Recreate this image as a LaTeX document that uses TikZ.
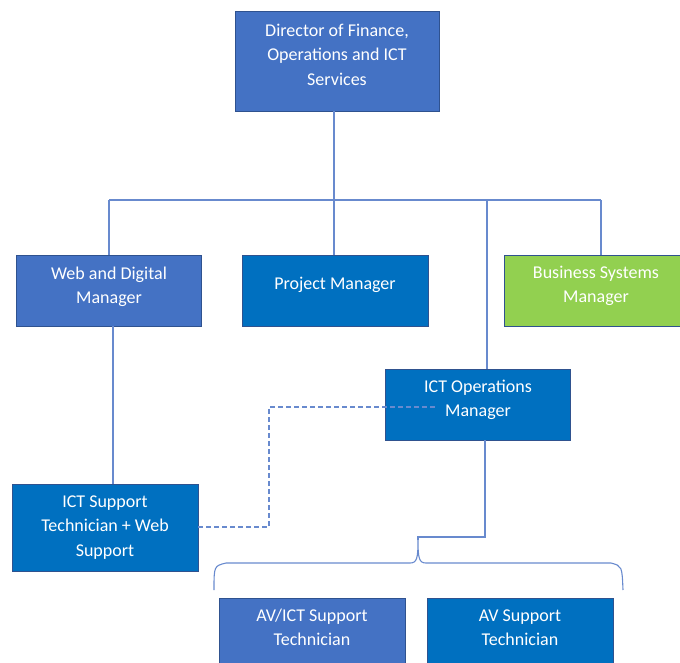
\documentclass[tikz,border=0pt]{standalone}
\usepackage{fontspec}
\setmainfont{Carlito}
\definecolor{blueA}{HTML}{4472C4}
\definecolor{blueB}{HTML}{0070C0}
\definecolor{greenA}{HTML}{92D050}
\definecolor{bord}{HTML}{2F528F}
\definecolor{conn}{RGB}{104,138,206}
\tikzset{
  box/.style={draw=bord, line width=0.7pt, anchor=north west, inner sep=0pt, minimum width=#1},
  box/.default=186pt,
  txt/.style={text=white, anchor=north, inner xsep=0pt, inner ysep=0pt, align=center, font=\fontsize{18}{24.5}\selectfont},
  link/.style={draw=conn, line width=1.1pt},
  dlink/.style={link, dash pattern=on 5pt off 3pt}
}
\begin{document}
\begin{tikzpicture}[x=1pt,y=-1pt]
\useasboundingbox (0,0) rectangle (680,663);
% boxes
\node[box=204pt, minimum height=100pt, fill=blueA] (dir) at (235,11) {};
\node[box=185pt, minimum height=71pt, fill=blueA] (web) at (16,255) {};
\node[box=186pt, minimum height=71pt, fill=blueB] (pm) at (242,255) {};
\node[box=182pt, minimum height=71pt, fill=greenA] (bsm) at (504,255) {};
\node[box=185pt, minimum height=71pt, fill=blueB] (ops) at (385,369) {};
\node[box=186pt, minimum height=87pt, fill=blueB] (sup) at (12,484) {};
\node[box=186pt, minimum height=72pt, fill=blueA] (avict) at (219,598) {};
\node[box=186pt, minimum height=72pt, fill=blueB] (av) at (427,598) {};
% texts
\node[txt] (tdir) at (337,18.85) {\strut Director of Finance,\\Operations and ICT\\Services};
\node[txt] (tweb) at (109,261.85) {\strut Web and Digital\\Manager};
\node[txt] (tpm) at (335,271.85) {\strut Project Manager};
\node[txt] (tbsm) at (596,260.85) {\strut Business Systems\\Manager};
\node[txt] (tops) at (478,374.85) {\strut ICT Operations\\Manager};
\node[txt] (tsup) at (105,489.85) {\strut ICT Support\\Technician + Web\\Support};
\node[txt] (tavict) at (312,603.85) {\strut AV/ICT Support\\Technician};
\node[txt] (tav) at (520,603.85) {\strut AV Support\\Technician};
% connector coordinates
\coordinate (dirb) at (334,111);
\coordinate (barL) at (109,200);
\coordinate (barR) at (601,200);
\coordinate (barPM) at (334,200);
\coordinate (barOps) at (487,200);
\coordinate (webb) at (113,326);
\coordinate (supt) at (113,484);
\coordinate (d1) at (269,527);
\coordinate (d2) at (269,407);
\coordinate (d3) at (437,407);
\coordinate (supr) at (198,527);
\coordinate (opsb) at (485,440);
\coordinate (k1) at (485,537);
\coordinate (k2) at (418,537);
\coordinate (tip) at (418,540);
% connectors
\draw[link] (dirb) -- (barPM) -- (barPM |- pm.north);
\draw[link] (barL) -- (barR);
\draw[link] (barL) -- (barL |- web.north);
\draw[link] (barR) -- (barR |- bsm.north);
\draw[link] (barOps) -- (barOps |- ops.north);
\draw[link] (webb) -- (supt);
\draw[dlink] (supr) -- (d1) -- (d2) -- (d3);
\draw[link] (opsb) -- (k1) -- (k2) -- (tip);
% brace
\draw[link] (214,590) .. controls (214,566) .. (226,563) -- (410,563)
  .. controls (417,563) and (418,558) .. (tip)
  .. controls (418,558) and (419,563) .. (426,563) -- (611,563)
  .. controls (622,566) .. (623,590);
\end{tikzpicture}
\end{document}
